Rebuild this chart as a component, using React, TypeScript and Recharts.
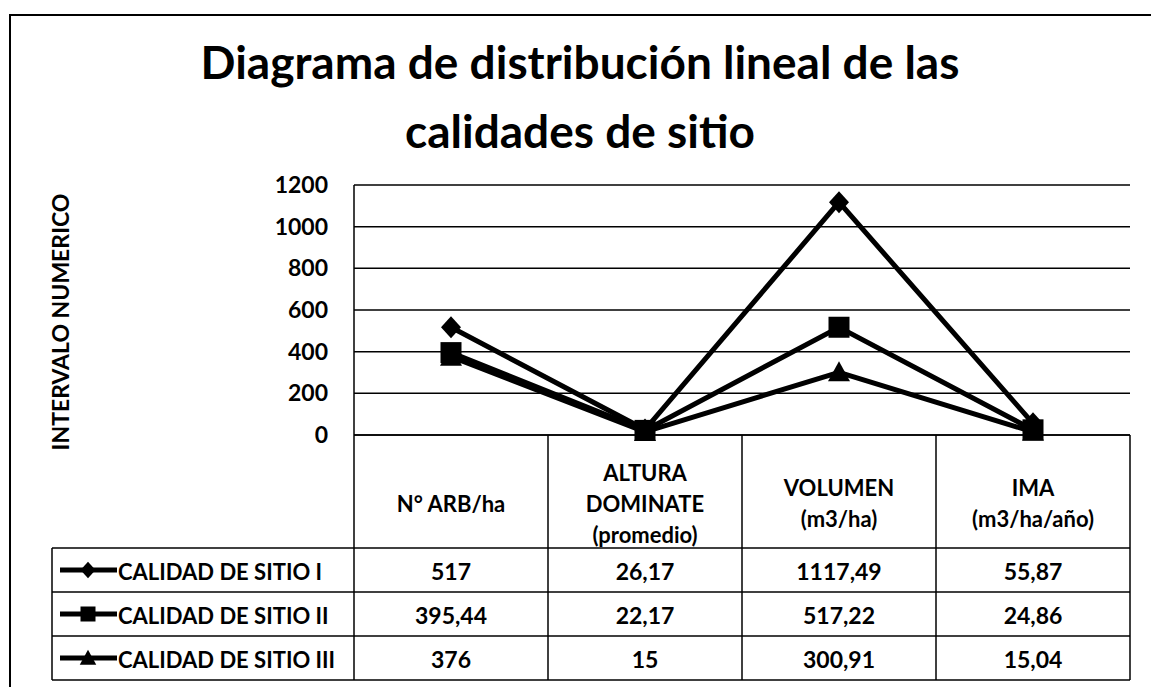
import React from 'react';
import { LineChart, Line, XAxis, YAxis, CartesianGrid, Label } from 'recharts';

const categories = ['N° ARB/ha', 'ALTURA\nDOMINATE\n(promedio)', 'VOLUMEN\n(m3/ha)', 'IMA\n(m3/ha/año)'];
const seriesNames = ['CALIDAD DE SITIO I', 'CALIDAD DE SITIO II', 'CALIDAD DE SITIO III'];
const sitioI = [517, 26.17, 1117.49, 55.87];
const sitioII = [395.44, 22.17, 517.22, 24.86];
const sitioIII = [376, 15, 300.91, 15.04];
const yTicks = [0, 200, 400, 600, 800, 1000, 1200];
const titleLines = ['Diagrama de distribución lineal de las', 'calidades de sitio'];
const yLabel = 'INTERVALO NUMERICO';

const seriesValues = [sitioI, sitioII, sitioIII];
const markerKinds = ['diamond', 'square', 'triangle'];
const keys = ['s1', 's2', 's3'];

const data = categories.map((c, i) => ({
  cat: c,
  s1: sitioI[i],
  s2: sitioII[i],
  s3: sitioIII[i],
}));

const FONT = 'Lato, "Open Sans", sans-serif';
const W = 1151;
const H = 687;
const COL_HALF = 97;
const HEADER_H = 113;
const ROW_H = 44;
const LEGEND_LEFT = 52;

const fmt = (v: number) => String(v).replace('.', ',');

function Marker({ kind, cx, cy, s }: { kind: string; cx: number; cy: number; s: number }) {
  if (kind === 'diamond') {
    return (
      <polygon
        points={`${cx},${cy - s * 0.55} ${cx + s * 0.5},${cy} ${cx},${cy + s * 0.55} ${cx - s * 0.5},${cy}`}
        fill="#000"
      />
    );
  }
  if (kind === 'square') {
    return <rect x={cx - s / 2} y={cy - s / 2} width={s} height={s} fill="#000" />;
  }
  return (
    <polygon
      points={`${cx},${cy - s * 0.55} ${cx + s * 0.55},${cy + s * 0.45} ${cx - s * 0.55},${cy + s * 0.45}`}
      fill="#000"
    />
  );
}

function TableTick(props: any) {
  const { x, y, payload, index } = props;
  const lines = String(payload.value).split('\n');
  const left = x - COL_HALF;
  const right = x + COL_HALF;
  const bottom = y + HEADER_H + ROW_H * 3;
  const headerMid = y + 68;
  const lh = 31;
  const startY = headerMid - ((lines.length - 1) * lh) / 2;
  const stroke = { stroke: '#000', strokeWidth: 1.5 };
  return (
    <g>
      {index === 0 && <line x1={left} y1={y} x2={left} y2={bottom} {...stroke} />}
      <line x1={right} y1={y} x2={right} y2={bottom} {...stroke} />
      {[0, 1, 2, 3].map((r) => (
        <line key={r} x1={left} y1={y + HEADER_H + r * ROW_H} x2={right} y2={y + HEADER_H + r * ROW_H} {...stroke} />
      ))}
      {lines.map((ln, k) => (
        <text
          key={k}
          x={x}
          y={startY + k * lh}
          textAnchor="middle"
          dominantBaseline="central"
          fontFamily={FONT}
          fontWeight={700}
          fontSize={22}
          fill="#000"
        >
          {ln}
        </text>
      ))}
      {seriesValues.map((vals, r) => (
        <text
          key={'v' + r}
          x={x}
          y={y + HEADER_H + r * ROW_H + ROW_H / 2 + 1}
          textAnchor="middle"
          dominantBaseline="central"
          fontFamily={FONT}
          fontWeight={700}
          fontSize={23}
          fill="#000"
        >
          {fmt(vals[index])}
        </text>
      ))}
      {index === 0 && (
        <g>
          <line x1={LEGEND_LEFT} y1={y + HEADER_H} x2={LEGEND_LEFT} y2={bottom} {...stroke} />
          {[0, 1, 2, 3].map((r) => (
            <line
              key={'l' + r}
              x1={LEGEND_LEFT}
              y1={y + HEADER_H + r * ROW_H}
              x2={left}
              y2={y + HEADER_H + r * ROW_H}
              {...stroke}
            />
          ))}
          {seriesNames.map((nm, r) => {
            const cy = y + HEADER_H + r * ROW_H + ROW_H / 2;
            return (
              <g key={'n' + r}>
                <line x1={LEGEND_LEFT + 8} y1={cy} x2={LEGEND_LEFT + 65} y2={cy} stroke="#000" strokeWidth={5} />
                <Marker kind={markerKinds[r]} cx={LEGEND_LEFT + 36} cy={cy} s={15} />
                <text
                  x={LEGEND_LEFT + 66}
                  y={cy + 1}
                  dominantBaseline="central"
                  fontFamily={FONT}
                  fontWeight={700}
                  fontSize={22}
                  fill="#000"
                >
                  {nm}
                </text>
              </g>
            );
          })}
        </g>
      )}
    </g>
  );
}

function makeDot(kind: string, size: number) {
  return (p: any) => {
    if (p.cx == null || p.cy == null) return <g key={`e-${kind}-${p.index}`} />;
    return (
      <g key={`d-${kind}-${p.index}`}>
        <Marker kind={kind} cx={p.cx} cy={p.cy} s={size} />
      </g>
    );
  };
}

export default function App() {
  return (
    <div style={{ position: 'absolute', left: 0, top: 0, width: W, height: H, background: '#fff' }}>
      <div
        style={{
          position: 'absolute',
          left: 9,
          top: 14,
          width: W - 9,
          height: H - 14,
          borderLeft: '2px solid #000',
          borderTop: '2px solid #000',
        }}
      />
      <svg style={{ position: 'absolute', left: 0, top: 0 }} width={W} height={160}>
        {titleLines.map((t, i) => (
          <text
            key={i}
            x={580}
            y={79 + i * 69}
            textAnchor="middle"
            fontFamily={FONT}
            fontWeight={700}
            fontSize={46}
            fill="#000"
          >
            {t}
          </text>
        ))}
      </svg>
      <div style={{ position: 'absolute', left: 0, top: 0 }}>
        <LineChart width={W} height={H} data={data} margin={{ top: 185, right: 21, bottom: 0, left: 0 }}>
          <CartesianGrid vertical={false} stroke="#000" strokeWidth={1.5} strokeDasharray="" />
          <XAxis
            dataKey="cat"
            type="category"
            height={252}
            interval={0}
            padding={{ left: COL_HALF, right: COL_HALF }}
            axisLine={{ stroke: '#000', strokeWidth: 1.5 }}
            tickLine={false}
            tickSize={0}
            tickMargin={0}
            tick={<TableTick />}
          />
          <YAxis
            width={354}
            domain={[0, 1200]}
            ticks={yTicks}
            interval={0}
            axisLine={{ stroke: '#000', strokeWidth: 1.5 }}
            tickLine={false}
            tickSize={0}
            tickMargin={26}
            tick={{ fontFamily: FONT, fontWeight: 700, fontSize: 23, fill: '#000' }}
          >
            <Label
              content={() => (
                <text
                  x={60}
                  y={322}
                  transform="rotate(-90 60 322)"
                  textAnchor="middle"
                  dominantBaseline="central"
                  fontFamily={FONT}
                  fontWeight={700}
                  fontSize={23}
                  fill="#000"
                >
                  {yLabel}
                </text>
              )}
            />
          </YAxis>
          {keys.map((k, i) => (
            <Line
              key={k}
              dataKey={k}
              name={seriesNames[i]}
              stroke="#000"
              strokeWidth={5}
              isAnimationActive={false}
              dot={makeDot(markerKinds[i], i === 1 ? 21 : 20)}
              activeDot={false}
            />
          ))}
        </LineChart>
      </div>
    </div>
  );
}
